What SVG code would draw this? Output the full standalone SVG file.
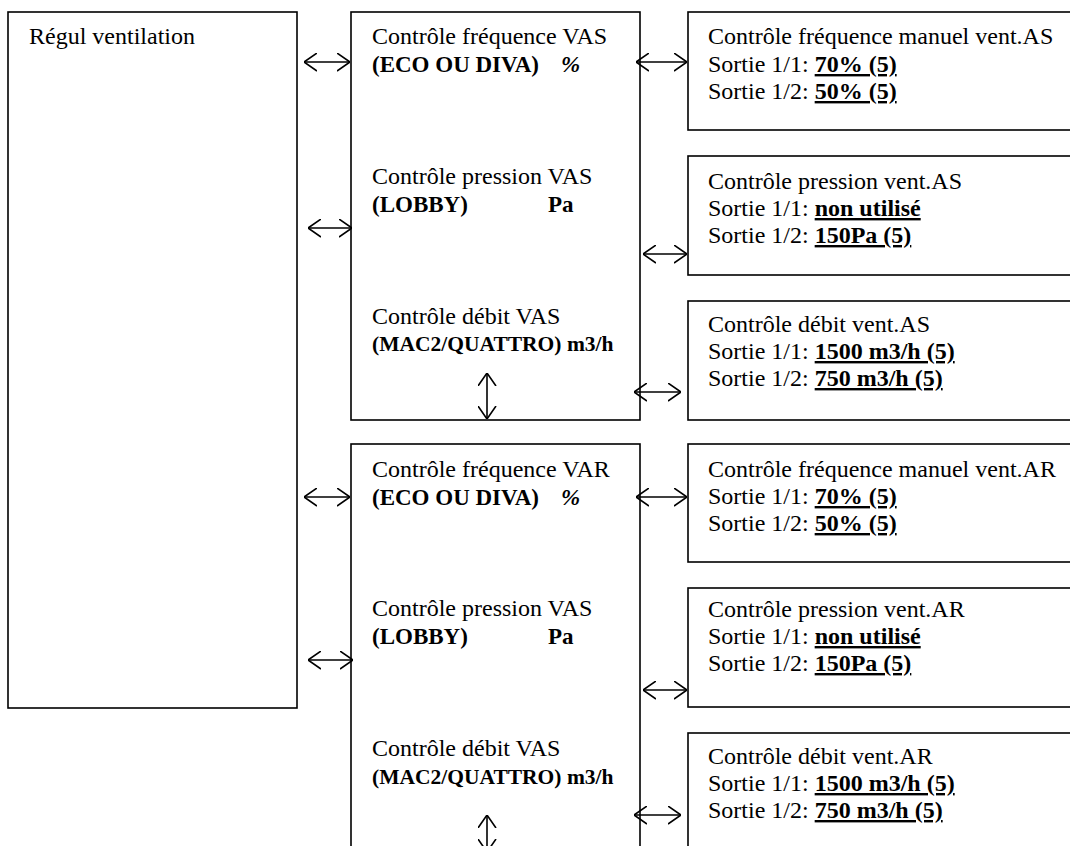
<svg xmlns="http://www.w3.org/2000/svg" width="1070" height="846" viewBox="0 0 1070 846">
<style>
.box{fill:#fff;stroke:#000;stroke-width:1.6}
.t{font-family:"Liberation Serif","Times New Roman",serif;font-size:24px;fill:#000}
.b{font-weight:bold;font-size:23px}
.u{font-weight:bold;text-decoration:underline}
.sm{font-weight:bold;font-size:21.5px}
.c{fill:none;stroke:#000;stroke-width:1.6}
</style>
<defs>
<marker id="arr" viewBox="0 0 13 19" refX="13" refY="9.5" markerWidth="13" markerHeight="19" markerUnits="userSpaceOnUse" orient="auto-start-reverse">
<path d="M0,0.5 L13,9.5 L0,18.5" fill="none" stroke="#000" stroke-width="1.6"/>
</marker>
</defs>
<rect width="1070" height="846" fill="#fff"/>

<g id="regul">
<rect class="box" x="8" y="12" width="289" height="696"/>
<text class="t" x="29" y="44">Régul ventilation</text>
</g>

<g id="vas">
<rect class="box" x="351" y="12" width="289" height="408"/>
<text class="t" x="372" y="44">Contrôle fréquence VAS</text>
<text class="t b" x="372" y="72">(ECO OU DIVA)<tspan font-style="italic" x="561">%</tspan></text>
<text class="t" x="372" y="184">Contrôle pression VAS</text>
<text class="t b" x="372" y="212">(LOBBY)<tspan x="548">Pa</tspan></text>
<text class="t" x="372" y="324">Contrôle débit VAS</text>
<text class="t sm" x="372" y="351">(MAC2/QUATTRO) m3/h</text>
</g>

<g id="var">
<rect class="box" x="351" y="444" width="289" height="420"/>
<text class="t" x="372" y="477">Contrôle fréquence VAR</text>
<text class="t b" x="372" y="505">(ECO OU DIVA)<tspan font-style="italic" x="561">%</tspan></text>
<text class="t" x="372" y="616">Contrôle pression VAS</text>
<text class="t b" x="372" y="644">(LOBBY)<tspan x="548">Pa</tspan></text>
<text class="t" x="372" y="756">Contrôle débit VAS</text>
<text class="t sm" x="372" y="784">(MAC2/QUATTRO) m3/h</text>
</g>

<g id="freqAS">
<rect class="box" x="688" y="12" width="400" height="118"/>
<text class="t" x="708" y="44">Contrôle fréquence manuel vent.AS</text>
<text class="t" x="708" y="72">Sortie 1/1: <tspan class="u">70% (5)</tspan></text>
<text class="t" x="708" y="99">Sortie 1/2: <tspan class="u">50% (5)</tspan></text>
</g>
<g id="pressAS">
<rect class="box" x="688" y="156" width="400" height="119"/>
<text class="t" x="708" y="189">Contrôle pression vent.AS</text>
<text class="t" x="708" y="216">Sortie 1/1: <tspan class="u">non utilisé</tspan></text>
<text class="t" x="708" y="243">Sortie 1/2: <tspan class="u">150Pa (5)</tspan></text>
</g>
<g id="debitAS">
<rect class="box" x="688" y="301" width="400" height="119"/>
<text class="t" x="708" y="332">Contrôle débit vent.AS</text>
<text class="t" x="708" y="359">Sortie 1/1: <tspan class="u">1500 m3/h (5)</tspan></text>
<text class="t" x="708" y="386">Sortie 1/2: <tspan class="u">750 m3/h (5)</tspan></text>
</g>
<g id="freqAR">
<rect class="box" x="688" y="444" width="400" height="118"/>
<text class="t" x="708" y="477">Contrôle fréquence manuel vent.AR</text>
<text class="t" x="708" y="504">Sortie 1/1: <tspan class="u">70% (5)</tspan></text>
<text class="t" x="708" y="531">Sortie 1/2: <tspan class="u">50% (5)</tspan></text>
</g>
<g id="pressAR">
<rect class="box" x="688" y="588" width="400" height="119"/>
<text class="t" x="708" y="617">Contrôle pression vent.AR</text>
<text class="t" x="708" y="644">Sortie 1/1: <tspan class="u">non utilisé</tspan></text>
<text class="t" x="708" y="671">Sortie 1/2: <tspan class="u">150Pa (5)</tspan></text>
</g>
<g id="debitAR">
<rect class="box" x="688" y="733" width="400" height="130"/>
<text class="t" x="708" y="764">Contrôle débit vent.AR</text>
<text class="t" x="708" y="791">Sortie 1/1: <tspan class="u">1500 m3/h (5)</tspan></text>
<text class="t" x="708" y="818">Sortie 1/2: <tspan class="u">750 m3/h (5)</tspan></text>
</g>

<g id="connectors">
<line class="c" x1="304" y1="62" x2="350" y2="62" marker-start="url(#arr)" marker-end="url(#arr)"/>
<line class="c" x1="308" y1="228" x2="352" y2="228" marker-start="url(#arr)" marker-end="url(#arr)"/>
<line class="c" x1="636" y1="62" x2="687" y2="62" marker-start="url(#arr)" marker-end="url(#arr)"/>
<line class="c" x1="643" y1="254" x2="687" y2="254" marker-start="url(#arr)" marker-end="url(#arr)"/>
<line class="c" x1="634" y1="392" x2="681" y2="392" marker-start="url(#arr)" marker-end="url(#arr)"/>
<line class="c" x1="487" y1="373" x2="487" y2="419" marker-start="url(#arr)" marker-end="url(#arr)"/>
<line class="c" x1="304" y1="497" x2="350" y2="497" marker-start="url(#arr)" marker-end="url(#arr)"/>
<line class="c" x1="308" y1="660" x2="353" y2="660" marker-start="url(#arr)" marker-end="url(#arr)"/>
<line class="c" x1="636" y1="497" x2="687" y2="497" marker-start="url(#arr)" marker-end="url(#arr)"/>
<line class="c" x1="643" y1="690" x2="687" y2="690" marker-start="url(#arr)" marker-end="url(#arr)"/>
<line class="c" x1="634" y1="815" x2="681" y2="815" marker-start="url(#arr)" marker-end="url(#arr)"/>
<line class="c" x1="487" y1="815" x2="487" y2="852" marker-start="url(#arr)" marker-end="url(#arr)"/>
</g>
</svg>
